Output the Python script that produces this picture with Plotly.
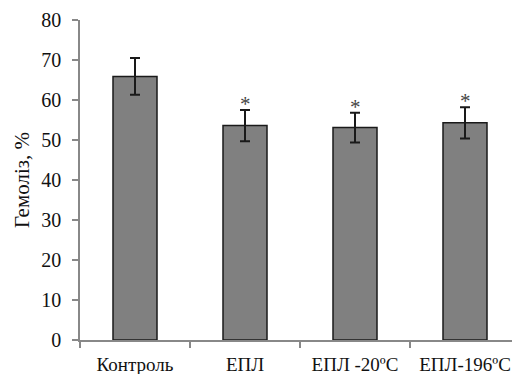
import plotly.graph_objects as go

categories = ["Контроль", "ЕПЛ", "ЕПЛ -20ºC", "ЕПЛ-196ºC"]
values = [65.9, 53.6, 53.1, 54.3]
errors = [4.6, 3.9, 3.7, 3.9]
marks = ["", "*", "*", "*"]
y_ticks = [0, 10, 20, 30, 40, 50, 60, 70, 80]

font_family = "Liberation Serif, Times New Roman, serif"

fig = go.Figure()
fig.add_trace(go.Bar(
    x=categories, y=values,
    width=0.4,
    marker=dict(color="#808080", line=dict(color="#1a1a1a", width=1.5)),
    error_y=dict(type="data", array=errors, visible=True, color="#1a1a1a",
                 thickness=2, width=5),
))

for c, v, e, m in zip(categories, values, errors, marks):
    if m:
        fig.add_annotation(x=c, y=v + e, text=m, showarrow=False,
                           yanchor="bottom", yshift=-8,
                           font=dict(family=font_family, size=21, color="#444"))

fig.update_layout(
    width=512, height=366,
    margin=dict(l=72, r=0, t=12, b=34, autoexpand=False),
    paper_bgcolor="white", plot_bgcolor="white",
    showlegend=False,
    font=dict(family=font_family, size=19, color="#111"),
)
fig.update_xaxes(
    showline=True, linecolor="#888", linewidth=1.5,
    ticks="outside", ticklen=6, tickcolor="#888", tickwidth=1.5,
    tickson="boundaries", ticklabelstandoff=6,
    tickfont=dict(size=19, family=font_family, color="#111"),
    showgrid=False, automargin=False,
)
fig.update_yaxes(
    range=[0, 80], tickvals=y_ticks,
    showline=True, linecolor="#888", linewidth=1.5,
    ticks="outside", ticklen=6, tickcolor="#888", tickwidth=1.5,
    ticklabelstandoff=7,
    tickfont=dict(size=20, family=font_family, color="#111"),
    showgrid=False, zeroline=False, automargin=False,
    title=dict(text="Гемоліз, %", standoff=6,
               font=dict(size=21, family=font_family, color="#111")),
)

fig.write_html("out.html")
